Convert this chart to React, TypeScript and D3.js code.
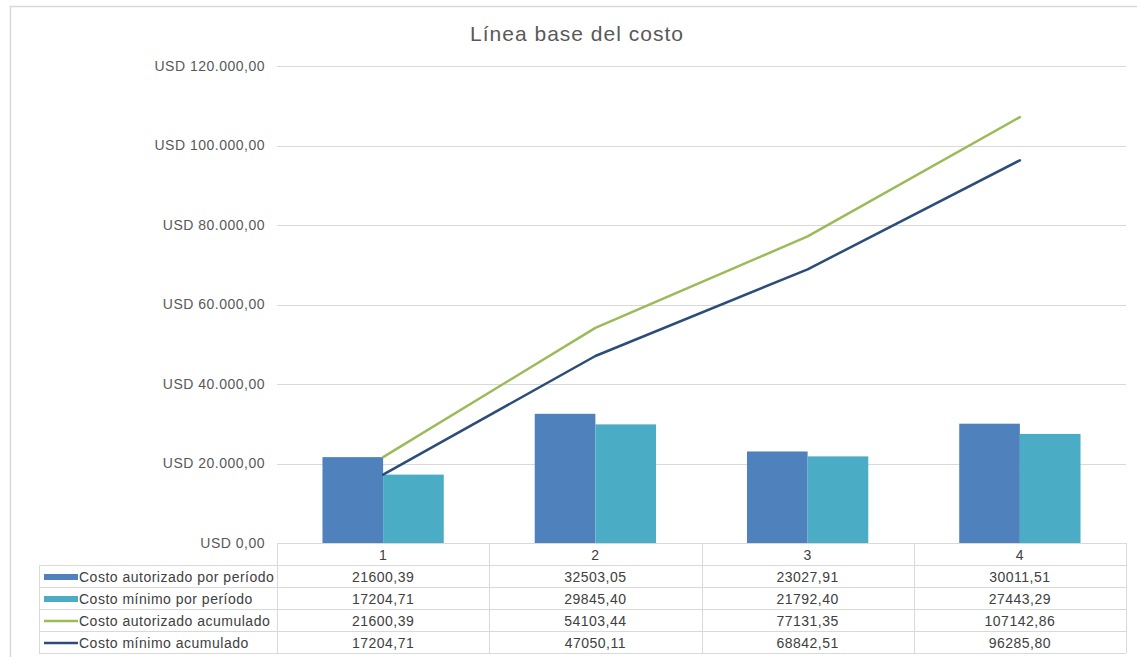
import React from "react";
import * as d3 from "d3";

const title = "Línea base del costo";
const categories = ["1", "2", "3", "4"];
const seriesNames = [
  "Costo autorizado por período",
  "Costo mínimo por período",
  "Costo autorizado acumulado",
  "Costo mínimo acumulado",
];
const autorizadoPeriodo = [21600.39, 32503.05, 23027.91, 30011.51];
const minimoPeriodo = [17204.71, 29845.4, 21792.4, 27443.29];
const autorizadoAcumulado = [21600.39, 54103.44, 77131.35, 107142.86];
const minimoAcumulado = [17204.71, 47050.11, 68842.51, 96285.8];
const yTicks = [0, 20000, 40000, 60000, 80000, 100000, 120000];

const colors = ["#4F81BD", "#4BACC6", "#9BBB59", "#2C4D7A"];

const W = 1137;
const H = 657;
const plotLeft = 277;
const plotRight = 1126;
const plotTop = 66;
const plotBottom = 543;
const rowH = 22;
const tableLeft = 39;
const font = "'Liberation Sans', Arial, sans-serif";
const fs = 14;
const ls = 0.5;

const locale = d3.formatLocale({
  decimal: ",",
  thousands: ".",
  grouping: [3],
  currency: ["USD ", ""],
});
const fmtAxis = locale.format("$,.2f");
const fmtCell = (v: number) => d3.format(".2f")(v).replace(".", ",");

export default function App() {
  const x = d3
    .scaleBand<string>()
    .domain(categories)
    .range([plotLeft, plotRight])
    .paddingInner(0)
    .paddingOuter(0);
  const y = d3.scaleLinear().domain([0, 120000]).range([plotBottom, plotTop]);
  const bw = x.bandwidth();
  const barW = bw / 3.5;
  const center = (c: string) => (x(c) as number) + bw / 2;

  const line = d3
    .line<number>()
    .x((_, i) => center(categories[i]))
    .y((d) => y(d));

  const barSeries = [autorizadoPeriodo, minimoPeriodo];
  const lineSeries = [autorizadoAcumulado, minimoAcumulado];
  const allRows = [autorizadoPeriodo, minimoPeriodo, autorizadoAcumulado, minimoAcumulado];

  const tableTop = plotBottom;
  const grid = "#D9D9D9";
  const textCol = "#404040";

  return (
    <svg
      width={W}
      height={H}
      style={{ position: "absolute", left: 0, top: 0, background: "#fff" }}
      fontFamily={font}
    >
      <rect x={0} y={0} width={W} height={H} fill="#fff" />
      {/* chart area border */}
      <rect x={10.5} y={6.5} width={W + 10} height={H + 10} fill="none" stroke={grid} strokeWidth={1.5} />
      <text x={577} y={41} textAnchor="middle" fontSize={21} letterSpacing={1} fill="#595959">
        {title}
      </text>
      {/* gridlines */}
      {yTicks.map((t) => (
        <line
          key={t}
          x1={plotLeft}
          x2={plotRight}
          y1={Math.round(y(t)) + 0.5}
          y2={Math.round(y(t)) + 0.5}
          stroke={grid}
          strokeWidth={1}
        />
      ))}
      {yTicks.map((t) => (
        <text
          key={"l" + t}
          x={265}
          y={y(t)}
          dy="0.35em"
          textAnchor="end"
          fontSize={fs}
          letterSpacing={ls}
          fill="#595959"
        >
          {fmtAxis(t)}
        </text>
      ))}
      {/* bars */}
      {barSeries.map((s, si) =>
        s.map((v, i) => {
          const c = categories[i];
          const bx = center(c) - barW + si * barW;
          return (
            <rect
              key={si + "-" + i}
              x={bx}
              y={y(v)}
              width={barW}
              height={plotBottom - y(v)}
              fill={colors[si]}
            />
          );
        })
      )}
      {/* lines */}
      {lineSeries.map((s, si) => (
        <path
          key={"ln" + si}
          d={line(s) as string}
          fill="none"
          stroke={colors[si + 2]}
          strokeWidth={2.5}
          strokeLinejoin="round"
          strokeLinecap="round"
        />
      ))}
      {/* data table */}
      <g>
        <line x1={plotLeft} x2={plotRight} y1={tableTop + 0.5} y2={tableTop + 0.5} stroke={grid} />
        {[1, 2, 3, 4, 5].map((r) => (
          <line
            key={"h" + r}
            x1={tableLeft}
            x2={plotRight}
            y1={tableTop + r * rowH + 0.5}
            y2={tableTop + r * rowH + 0.5}
            stroke={grid}
          />
        ))}
        <line x1={tableLeft + 0.5} x2={tableLeft + 0.5} y1={tableTop + rowH} y2={tableTop + 5 * rowH} stroke={grid} />
        {categories.map((c) => (
          <line
            key={"v" + c}
            x1={Math.round(x(c) as number) + 0.5}
            x2={Math.round(x(c) as number) + 0.5}
            y1={tableTop}
            y2={tableTop + 5 * rowH}
            stroke={grid}
          />
        ))}
        <line x1={plotRight + 0.5} x2={plotRight + 0.5} y1={tableTop} y2={tableTop + 5 * rowH} stroke={grid} />
        {categories.map((c) => (
          <text
            key={"c" + c}
            x={center(c)}
            y={tableTop + rowH / 2 + 1}
            dy="0.35em"
            textAnchor="middle"
            fontSize={fs}
            letterSpacing={ls}
            fill={textCol}
          >
            {c}
          </text>
        ))}
        {seriesNames.map((n, r) => {
          const cy = tableTop + (r + 1) * rowH + rowH / 2 + 1;
          return (
            <g key={"r" + r}>
              {r < 2 ? (
                <rect x={44} y={cy - 3} width={34} height={6} fill={colors[r]} />
              ) : (
                <line x1={44} x2={78} y1={cy} y2={cy} stroke={colors[r]} strokeWidth={2.5} />
              )}
              <text x={79} y={cy} dy="0.35em" fontSize={fs} letterSpacing={ls} fill={textCol}>
                {n}
              </text>
              {allRows[r].map((v, i) => (
                <text
                  key={i}
                  x={center(categories[i])}
                  y={cy}
                  dy="0.35em"
                  textAnchor="middle"
                  fontSize={fs}
                  letterSpacing={ls}
                  fill={textCol}
                >
                  {fmtCell(v)}
                </text>
              ))}
            </g>
          );
        })}
      </g>
    </svg>
  );
}
